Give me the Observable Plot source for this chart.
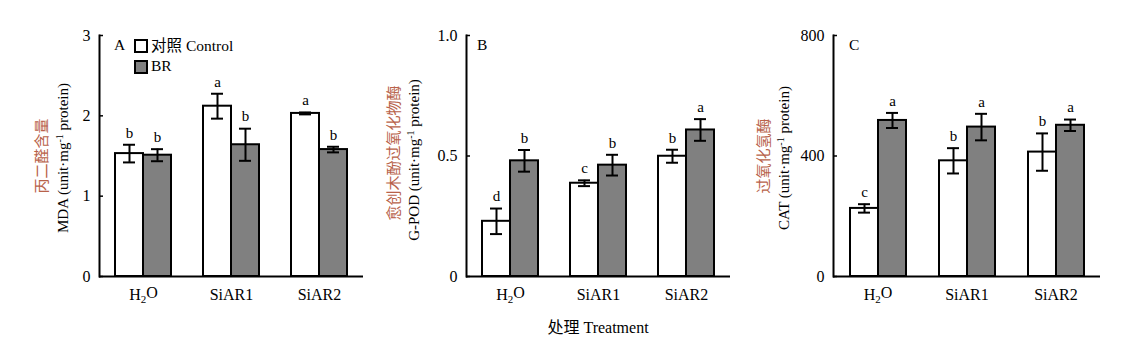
<!DOCTYPE html>
<html><head><meta charset="utf-8">
<script src="https://cdn.jsdelivr.net/npm/d3@7"></script>
<script src="https://cdn.jsdelivr.net/npm/@observablehq/plot@0.6"></script>
<style>
body{margin:0;background:#fff}
#root{position:relative;width:1124px;height:356px;overflow:hidden;font-family:"Liberation Serif","Times New Roman",serif;color:#000;background:#fff}
.pl{position:absolute;top:0}
.lab{position:absolute;white-space:nowrap;transform:translate(-50%,-50%) rotate(-90deg);font-size:15px;line-height:16px}
.cn{font-family:"Noto Sans CJK SC",sans-serif;}
.cl{color:#b8624a;font-size:15px}
.sup{position:relative;top:-5px;font-size:10px}
.txt{position:absolute;white-space:nowrap;font-size:15.5px;line-height:16px;transform:translateY(-50%)}
.box{position:absolute;width:10px;height:10px;border:2px solid #000}
</style></head>
<body><div id="root"></div>
<script>
const groups = ["H2O", "SiAR1", "SiAR2"];
const series = ["Control", "BR"];

// A: MDA
const mdaControl = [1.53, 2.12, 2.03];
const mdaControlErr = [0.11, 0.155, 0.012];
const mdaBR = [1.51, 1.64, 1.58];
const mdaBRErr = [0.075, 0.2, 0.035];
const mdaControlLetters = ["b", "a", "a"];
const mdaBRLetters = ["b", "b", "b"];
const mdaTicks = [0, 1, 2, 3];

// B: G-POD
const podControl = [0.229, 0.387, 0.499];
const podControlErr = [0.053, 0.012, 0.027];
const podBR = [0.480, 0.462, 0.608];
const podBRErr = [0.045, 0.043, 0.045];
const podControlLetters = ["d", "c", "b"];
const podBRLetters = ["b", "b", "a"];
const podTicks = [0, 0.5, 1.0];

// C: CAT
const catControl = [226, 384, 413];
const catControlErr = [14, 42, 62];
const catBR = [518, 496, 502];
const catBRErr = [25, 44, 19];
const catControlLetters = ["c", "b", "b"];
const catBRLetters = ["a", "a", "a"];
const catTicks = [0, 400, 800];

function rowsOf(ctrl, ctrlErr, br, brErr, cl, bl) {
  return groups.flatMap((g, i) => [
    {group: g, series: "Control", v: ctrl[i], e: ctrlErr[i], l: cl[i]},
    {group: g, series: "BR", v: br[i], e: brErr[i], l: bl[i]}
  ]);
}

function panel({left, width, ml, mr, domain, ticks, fmt, rows}) {
  const svg = Plot.plot({
    width, height: 320, marginLeft: ml, marginRight: mr, marginTop: 35, marginBottom: 44,
    style: {fontFamily: "Liberation Serif", fontSize: "16px", color: "#000", background: "transparent", overflow: "visible"},
    fx: {domain: groups, padding: 0, label: null, tickSize: 0, tickPadding: 12},
    x: {domain: series, paddingInner: 0, paddingOuter: 0.57, axis: null},
    y: {domain, axis: null},
    color: {domain: series, range: ["#ffffff", "#808080"]},
    marks: [
      Plot.barY(rows, {fx: "group", x: "series", y: "v", fill: "series", stroke: "#000", strokeWidth: 2}),
      Plot.ruleX(rows, {fx: "group", x: "series", y1: d => d.v - d.e, y2: d => d.v + d.e, strokeWidth: 2}),
      Plot.tickY(rows, {fx: "group", x: "series", y: d => d.v + d.e, strokeWidth: 2, insetLeft: 8, insetRight: 8}),
      Plot.tickY(rows, {fx: "group", x: "series", y: d => d.v - d.e, strokeWidth: 2, insetLeft: 8, insetRight: 8}),
      Plot.text(rows, {fx: "group", x: "series", y: d => d.v + d.e, text: "l", dy: -12, fontSize: 15}),
      Plot.ruleY([0], {strokeWidth: 2}),
      Plot.frame({anchor: "left", strokeWidth: 2, facetAnchor: "left"}),
      Plot.axisY({ticks, tickFormat: fmt, label: null, tickSize: -4, tickPadding: 13, strokeWidth: 1.5, facetAnchor: "left"})
    ]
  });
  svg.classList.add("pl");
  svg.style.left = left + "px";
  d3.select(svg).selectAll("text").filter(function () { return this.textContent === "H2O"; })
    .each(function () {
      const t = d3.select(this);
      t.text(null);
      t.append("tspan").text("H");
      t.append("tspan").attr("dy", "0.3em").attr("font-size", "11px").text("2");
      t.append("tspan").attr("dy", "-0.3em").text("O");
    });
  return svg;
}

const root = document.getElementById("root");
root.append(panel({left: 0, width: 375, ml: 98, mr: 12, domain: [0, 3], ticks: mdaTicks, fmt: d => String(d),
  rows: rowsOf(mdaControl, mdaControlErr, mdaBR, mdaBRErr, mdaControlLetters, mdaBRLetters)}));
root.append(panel({left: 375, width: 375, ml: 90, mr: 20, domain: [0, 1], ticks: podTicks, fmt: d => d === 0 ? "0" : d.toFixed(1),
  rows: rowsOf(podControl, podControlErr, podBR, podBRErr, podControlLetters, podBRLetters)}));
root.append(panel({left: 750, width: 374, ml: 82, mr: 24, domain: [0, 800], ticks: catTicks, fmt: d => String(d),
  rows: rowsOf(catControl, catControlErr, catBR, catBRErr, catControlLetters, catBRLetters)}));

function add(html, cls, x, y) {
  const d = document.createElement("div");
  d.className = cls;
  d.style.left = x + "px";
  d.style.top = y + "px";
  d.innerHTML = html;
  root.append(d);
  return d;
}
// y-axis titles
add('<span class="cn cl">丙二醛含量</span>', "lab", 41, 156);
add('MDA (unit·mg<span class="sup">-1</span> protein)', "lab", 64, 158);
add('<span class="cn cl">愈创木酚过氧化物酶</span>', "lab", 393, 153);
add('G-POD (unit·mg<span class="sup">-1</span> protein)', "lab", 415, 160);
add('<span class="cn cl">过氧化氢酶</span>', "lab", 763, 156);
add('CAT (unit·mg<span class="sup">-1</span> protein)', "lab", 785, 158);
// panel letters
add("A", "txt", 114, 45);
add("B", "txt", 477, 45);
add("C", "txt", 849, 45);
// legend
add("", "box", 134, 39).style.background = "#ffffff";
add('<span class="cn">对照</span> Control', "txt", 151, 45);
add("", "box", 134, 60).style.background = "#808080";
add("BR", "txt", 151, 66);
// x title
const xt = add('<span class="cn">处理</span> Treatment', "txt", 598, 327);
xt.style.fontSize = "16px";
xt.style.transform = "translate(-50%,-50%)";
</script>
</body></html>
